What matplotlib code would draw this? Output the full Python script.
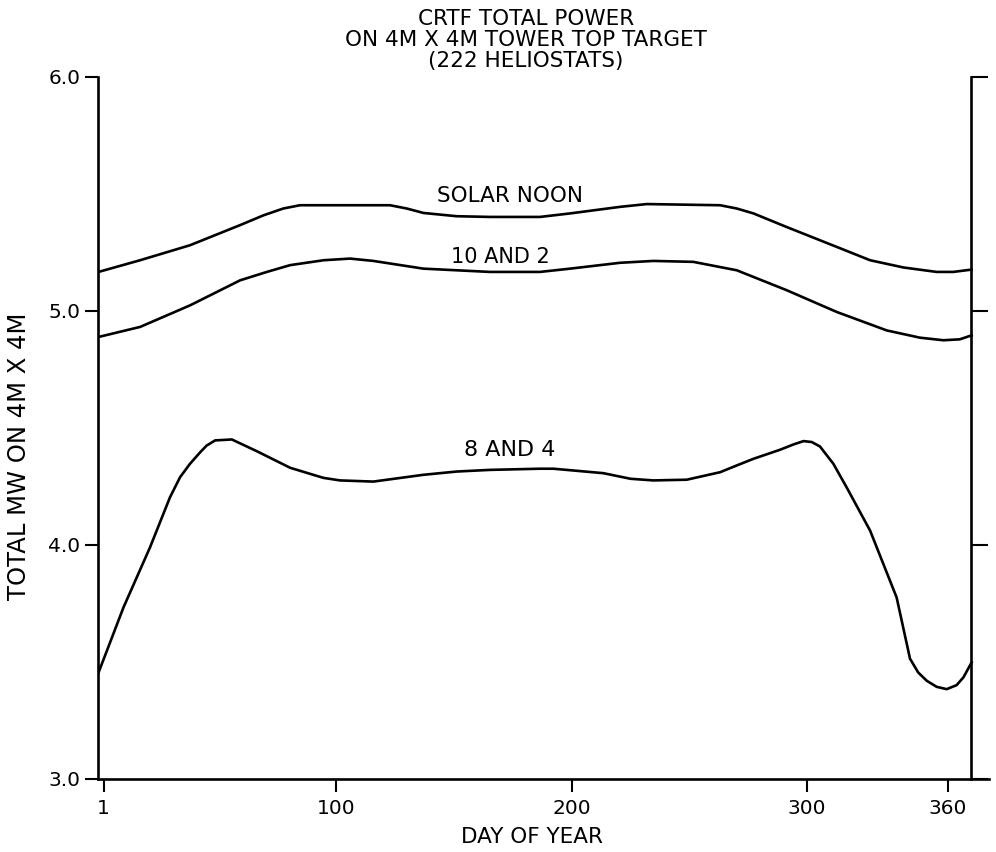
import matplotlib
matplotlib.use("Agg")
import matplotlib.pyplot as plt

# values (day of year, MW)
days_noon = [-1.2, 16.5, 37.7, 59.0, 69.0, 77.4, 84.5, 122.8, 129.9, 137.0, 151.2, 165.3,
             186.6, 199.4, 220.6, 232.0, 263.2, 270.3, 277.4, 291.5, 312.8, 327.0, 341.2,
             355.3, 362.4, 370.2]
mw_noon = [5.167, 5.217, 5.281, 5.367, 5.409, 5.438, 5.452, 5.452, 5.438, 5.419, 5.405, 5.402,
           5.402, 5.417, 5.445, 5.457, 5.452, 5.438, 5.417, 5.359, 5.274, 5.217, 5.186,
           5.167, 5.167, 5.177]

days_10_2 = [-1.2, 16.5, 37.7, 59.0, 70.4, 80.3, 94.6, 105.8, 115.7, 122.8, 137.0, 165.3,
             186.6, 199.4, 220.6, 234.8, 251.8, 270.3, 291.5, 312.8, 334.1, 348.2, 358.2,
             365.2, 370.2]
mw_10_2 = [4.889, 4.932, 5.024, 5.131, 5.167, 5.196, 5.217, 5.224, 5.214, 5.203, 5.181, 5.167,
           5.167, 5.181, 5.206, 5.214, 5.210, 5.174, 5.089, 4.996, 4.917, 4.886, 4.875,
           4.879, 4.896]

days_8_4 = [-1.2, 9.4, 20.7, 29.2, 33.5, 37.7, 42.1, 44.8, 48.4, 55.5, 66.1, 80.3, 94.4,
            101.5, 115.7, 137.0, 151.2, 165.3, 186.6, 192.3, 213.5, 225.1, 234.8, 249.0,
            263.2, 270.3, 277.3, 288.7, 294.5, 298.7, 302.2, 305.7, 311.4, 317.0, 327.0,
            338.3, 344.0, 347.5, 351.1, 355.3, 359.6, 363.8, 366.7, 370.2]
mw_8_4 = [3.455, 3.733, 3.990, 4.204, 4.290, 4.347, 4.397, 4.425, 4.447, 4.451, 4.401, 4.330,
          4.287, 4.276, 4.271, 4.300, 4.314, 4.321, 4.326, 4.326, 4.307, 4.283, 4.276, 4.279,
          4.311, 4.340, 4.368, 4.407, 4.430, 4.444, 4.440, 4.421, 4.347, 4.247, 4.062,
          3.776, 3.514, 3.455, 3.420, 3.394, 3.384, 3.401, 3.434, 3.498]

xticks = [1, 100, 200, 300, 360]
yticks = [3.0, 4.0, 5.0, 6.0]

plt.rcParams['font.family'] = ['DejaVu Sans']

fig = plt.figure(figsize=(9.96, 8.52), dpi=100)
ax = fig.add_axes([97.6 / 996, 73 / 852, (989 - 97.6) / 996, 702 / 852])

lw = 1.9
ax.plot(days_noon, mw_noon, color="black", lw=lw)
ax.plot(days_10_2, mw_10_2, color="black", lw=lw)
ax.plot(days_8_4, mw_8_4, color="black", lw=lw)

ax.text(173.8, 5.493, "SOLAR NOON", ha="center", va="center", fontsize=15.5)
ax.text(169.6, 5.230, "10 AND 2", ha="center", va="center", fontsize=15)
ax.text(173.5, 4.406, "8 AND 4", ha="center", va="center", fontsize=16)

ax.set_xlim(-1.6, 377.6)
ax.set_ylim(3.0, 6.0)

# spines: no top, right one sits at the end of the year
ax.spines["top"].set_visible(False)
for s in ["left", "right", "bottom"]:
    ax.spines[s].set_linewidth(1.9)
ax.spines["right"].set_position(("data", 370.1))

ax.set_xticks(xticks)
ax.set_xticklabels([str(t) for t in xticks])
ax.set_yticks(yticks)
ax.set_yticklabels(["%.1f" % t for t in yticks])
ax.tick_params(axis="x", direction="out", length=9.5, width=1.5, pad=5, labelsize=14.5)
ax.tick_params(axis="y", which="both", direction="out", length=9.5, width=1.5, pad=3,
               labelsize=14.5, right=True, labelright=False)
for t in ax.yaxis.get_major_ticks():
    t.tick2line.set_markersize(12)

ax.set_xlabel("DAY OF YEAR", fontsize=15.5)
ax.xaxis.set_label_coords(0.487, -0.068)
ax.set_ylabel("TOTAL MW ON 4M X 4M", fontsize=17.5)
ax.yaxis.set_label_coords(-0.075, 0.46)

fig.text(526 / 996, 1 - 40 / 852, "CRTF TOTAL POWER\nON 4M X 4M TOWER TOP TARGET\n(222 HELIOSTATS)",
         ha="center", va="center", fontsize=15.5, linespacing=1.08)

fig.savefig("out.png", dpi=100)
